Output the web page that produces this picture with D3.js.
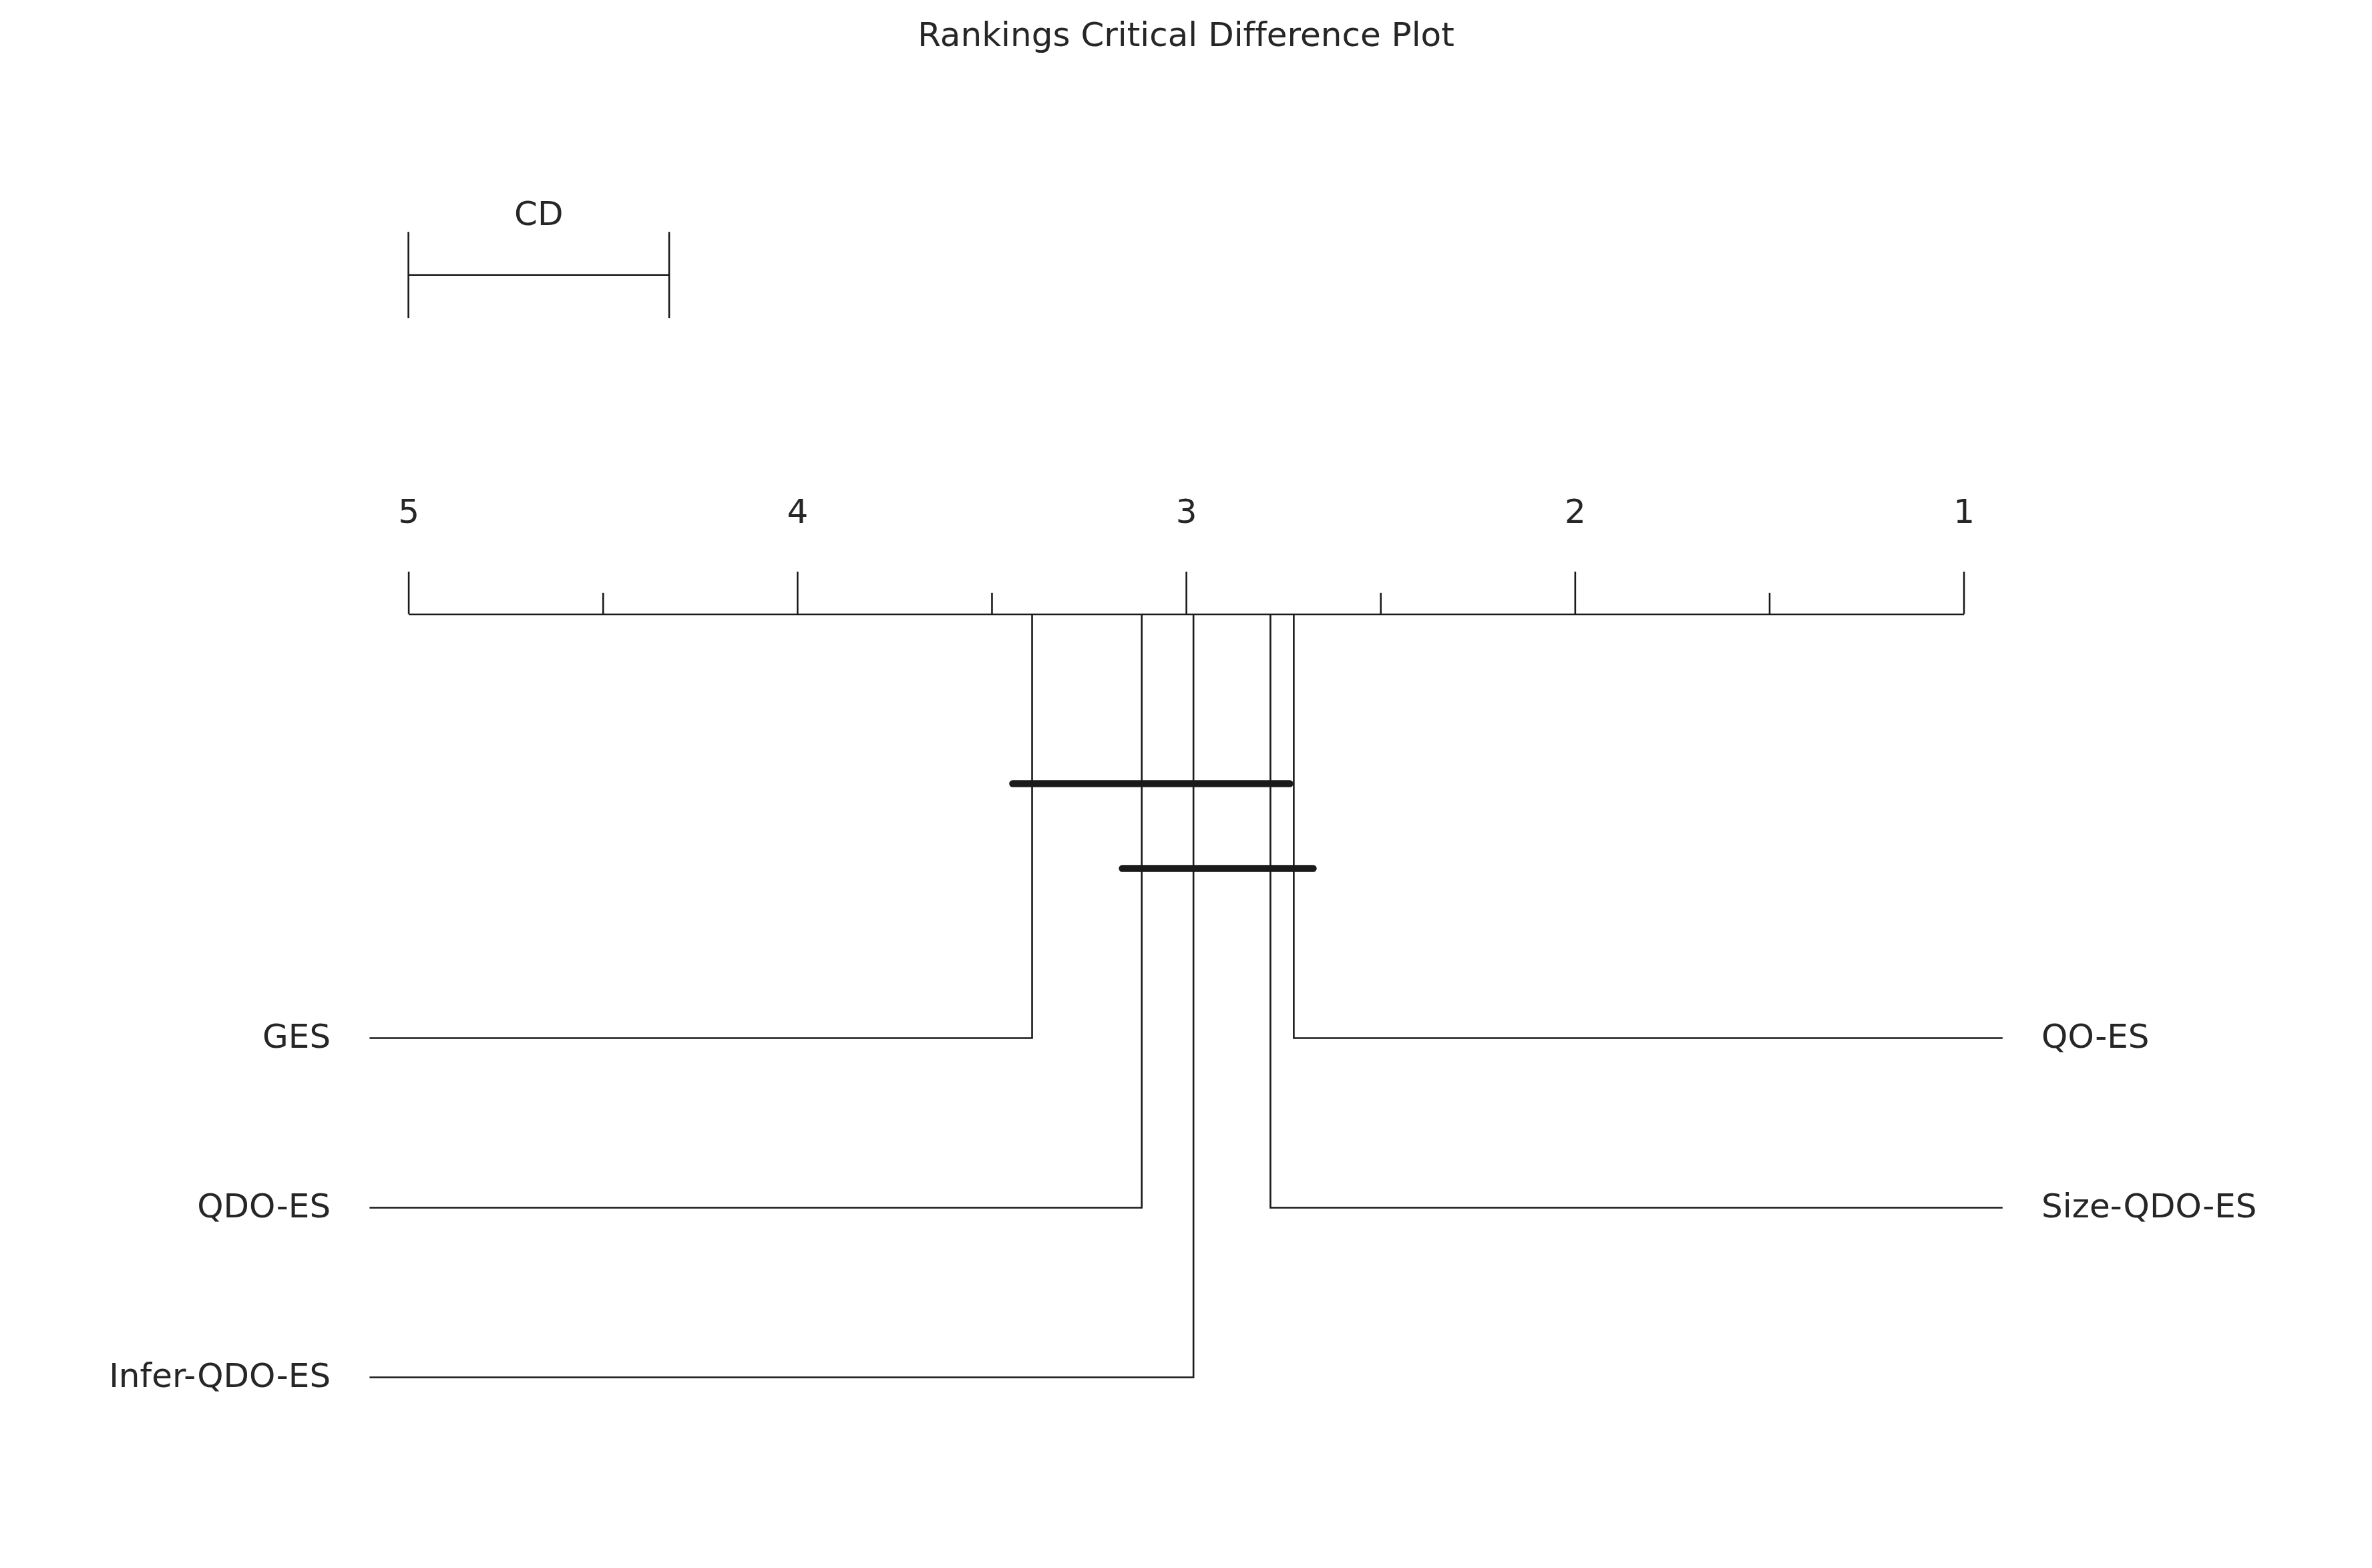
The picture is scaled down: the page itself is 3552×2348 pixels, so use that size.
<!DOCTYPE html>
<html>
<head>
<meta charset="utf-8">
<script src="https://cdn.jsdelivr.net/npm/d3@7"></script>
<style>
  html, body { margin: 0; padding: 0; background: #ffffff; }
  svg { display: block; }
  text { font-variant-ligatures: none; font-feature-settings: "liga" 0, "clig" 0; }
</style>
</head>
<body>
<script>
// ---- data ----
const methods = ["GES", "QDO-ES", "Infer-QDO-ES", "Size-QDO-ES", "QO-ES"];
const avgRanks = [3.396, 3.114, 2.981, 2.783, 2.723];
const cliques = [
  ["GES", "QDO-ES", "Infer-QDO-ES", "Size-QDO-ES"],
  ["QDO-ES", "Infer-QDO-ES", "Size-QDO-ES", "QO-ES"]
];
const cdValue = 0.6706;
const majorTicks = [5, 4, 3, 2, 1];
const minorTicks = [4.5, 3.5, 2.5, 1.5];
const titleText = "Rankings Critical Difference Plot";

// ---- layout ----
const W = 3552, H = 2348;
const FONT = "'DejaVu Sans', 'Liberation Sans', sans-serif";
const TEXT = "#262626", LINE = "#1a1a1a";
const thin = 2.6, thick = 10.4;

const svg = d3.select("body").append("svg").attr("width", W).attr("height", H)
  .style("font-family", FONT);

const x = d3.scaleLinear().domain([5, 1]).range([611.6, 2940.6]);
const y = d3.scaleLinear().domain([0, 1]).range([919.5, 1173.5]); // row units

const rankOf = {};
methods.forEach((m, i) => rankOf[m] = avgRanks[i]);

// title
svg.append("text").attr("x", W / 2).attr("y", 69).attr("text-anchor", "middle")
  .attr("font-size", 50).attr("fill", TEXT).text(titleText);

// axis (major)
const gMajor = svg.append("g").attr("transform", `translate(0,${y(0)})`)
  .call(d3.axisTop(x).tickValues(majorTicks).tickFormat(d3.format("d"))
    .tickSizeInner(63.5).tickSizeOuter(0).tickPadding(73));
gMajor.select(".domain").attr("stroke", LINE).attr("stroke-width", thin);
gMajor.selectAll(".tick line").attr("stroke", LINE).attr("stroke-width", thin);
gMajor.selectAll(".tick text").attr("font-size", 50).attr("font-family", FONT).attr("fill", TEXT);

// axis (minor)
const gMinor = svg.append("g").attr("transform", `translate(0,${y(0)})`)
  .call(d3.axisTop(x).tickValues(minorTicks).tickFormat("")
    .tickSizeInner(31.7).tickSizeOuter(0));
gMinor.select(".domain").remove();
gMinor.selectAll(".tick line").attr("stroke", LINE).attr("stroke-width", thin);

// CD bar
const cdY = 411.7;
const cdG = svg.append("g");
cdG.append("line").attr("x1", x(5)).attr("x2", x(5 - cdValue)).attr("y1", cdY).attr("y2", cdY)
  .attr("stroke", LINE).attr("stroke-width", thin);
[5, 5 - cdValue].forEach(r => {
  cdG.append("line").attr("x1", x(r)).attr("x2", x(r)).attr("y1", cdY - 64.5).attr("y2", cdY + 64.5)
    .attr("stroke", LINE).attr("stroke-width", thin);
});
cdG.append("text").attr("x", (x(5) + x(5 - cdValue)) / 2).attr("y", 337.3)
  .attr("text-anchor", "middle").attr("font-size", 50).attr("fill", TEXT).text("CD");

// method lines and labels
const order = methods.map((m, i) => ({ name: m, rank: avgRanks[i] }))
  .sort((a, b) => b.rank - a.rank);
const half = Math.ceil(order.length / 2);
const left = order.slice(0, half);
const right = order.slice(half).reverse();

left.forEach((d, i) => {
  const ry = y(2.5 + i);
  svg.append("path")
    .attr("d", `M${x(5.1)},${ry}H${x(d.rank)}V${y(0)}`)
    .attr("fill", "none").attr("stroke", LINE).attr("stroke-width", thin);
  svg.append("text").attr("x", x(5.2)).attr("y", ry + 14.5).attr("text-anchor", "end")
    .attr("font-size", 50).attr("fill", TEXT).text(d.name);
});
right.forEach((d, i) => {
  const ry = y(2.5 + i);
  svg.append("path")
    .attr("d", `M${x(0.9)},${ry}H${x(d.rank)}V${y(0)}`)
    .attr("fill", "none").attr("stroke", LINE).attr("stroke-width", thin);
  svg.append("text").attr("x", x(0.8)).attr("y", ry + 14.5).attr("text-anchor", "start")
    .attr("font-size", 50).attr("fill", TEXT).text(d.name);
});

// cliques
cliques.forEach((c, i) => {
  const rs = c.map(m => rankOf[m]);
  const cy = y(1 + 0.5 * i);
  svg.append("line")
    .attr("x1", x(d3.max(rs) + 0.05)).attr("x2", x(d3.min(rs) - 0.05))
    .attr("y1", cy).attr("y2", cy)
    .attr("stroke", LINE).attr("stroke-width", thick).attr("stroke-linecap", "round");
});
</script>
</body>
</html>
